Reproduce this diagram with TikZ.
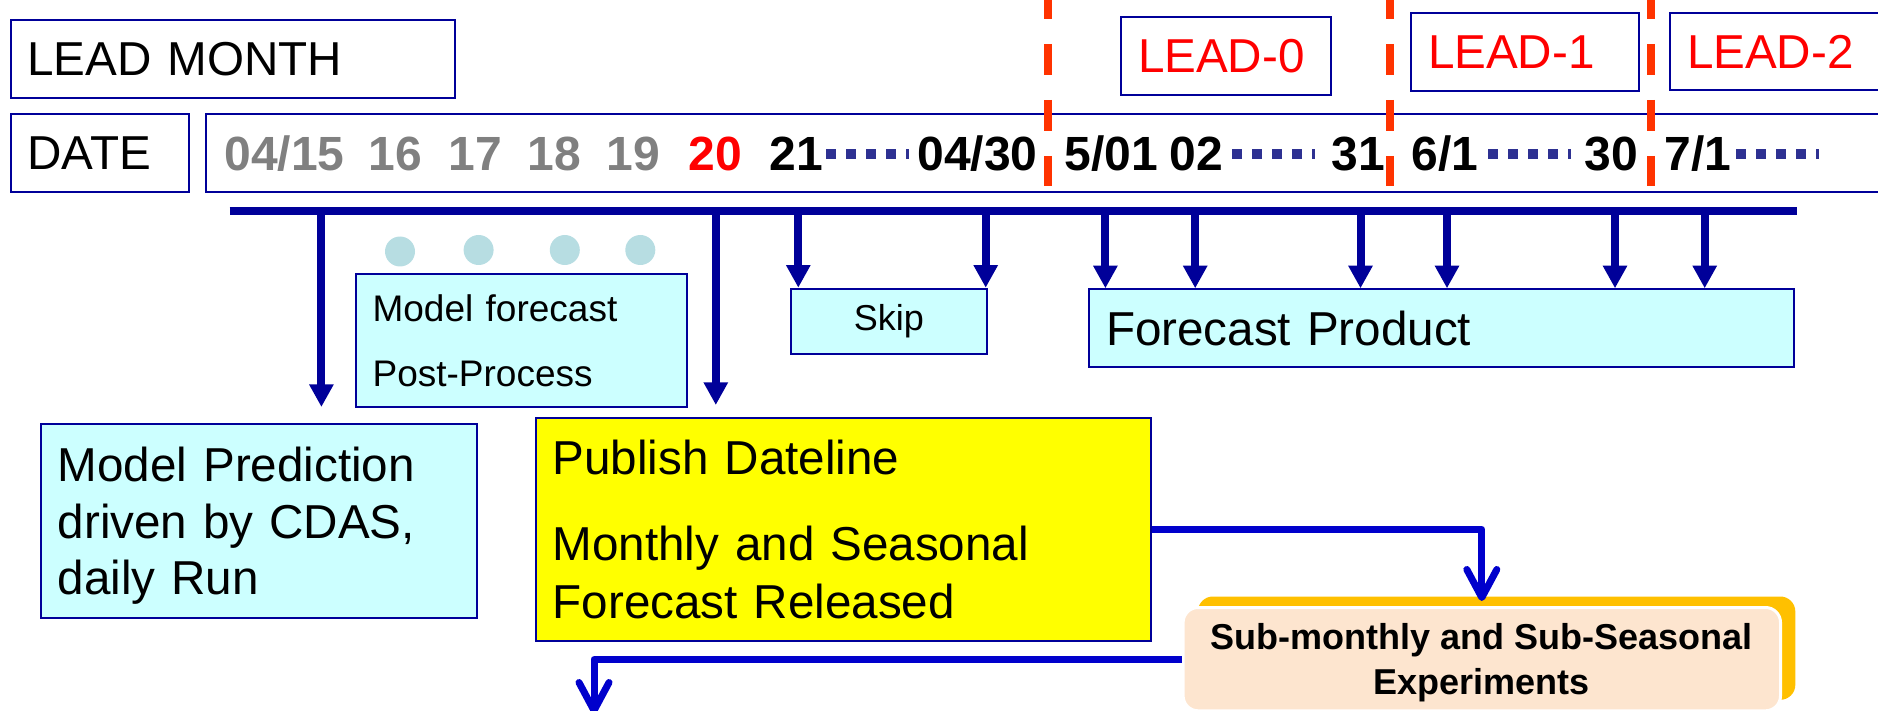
\documentclass[tikz,border=0pt]{standalone}
\usepackage{fontspec}
\setmainfont{Liberation Sans}
\usetikzlibrary{arrows.meta,shadows}
\definecolor{navy}{RGB}{0,0,153}
\definecolor{linkblue}{RGB}{0,0,204}
\definecolor{leadred}{RGB}{255,0,0}
\definecolor{dashred}{RGB}{255,51,0}
\definecolor{cyanfill}{RGB}{204,255,255}
\definecolor{dotnavy}{RGB}{46,49,146}
\definecolor{pastdate}{RGB}{128,128,128}
\definecolor{bead}{RGB}{183,221,226}
\definecolor{gold}{RGB}{255,192,0}
\definecolor{peach}{RGB}{253,229,207}
\definecolor{pubyellow}{RGB}{255,255,0}

\begin{document}
\begin{tikzpicture}[x=0.5pt,y=-0.5pt,
  box/.style={draw=navy,line width=1pt,anchor=north west,inner xsep=8.5pt,inner ysep=0pt,align=left},
  big/.style={font=\fontsize{23.8pt}{28.3pt}\selectfont},
  datenum/.style={anchor=base west,inner sep=0pt,font=\bfseries\fontsize{24pt}{28pt}\selectfont},
  drop/.style={draw=navy,line width=4pt,-{Triangle[width=11.5pt,length=11.3pt]}},
  bar/.style={draw=navy,line width=4pt},
  link/.style={draw=linkblue,line width=3.5pt,line join=round,-{Straight Barb[width=15pt,length=14pt,round]}},
  leadsep/.style={draw=dashred,line width=3.8pt,dash pattern=on 15.5pt off 12.5pt},
  dotrun/.style={draw=dotnavy,line width=5pt,dash pattern=on 5pt off 5pt},
  beadnode/.style={circle,fill=bead,inner sep=0pt,minimum size=15pt}]

\useasboundingbox (0,0) rectangle (1878,711);
\clip (0,0) rectangle (1878,711);

% header row
\node[box,big,minimum height=39pt,text width=205pt] (leadmonth) at (9.5,19) {LEAD MONTH};
\node[box,big,minimum height=39pt,text width=72pt] (datelabel) at (9.5,113) {DATE};
\node[box,minimum width=860pt,minimum height=39pt] (strip) at (205,113) {};
\node[box,big,text=leadred,minimum height=39pt,text width=88pt] (lead0) at (1120,16) {LEAD-0};
\node[box,big,text=leadred,minimum height=39pt,text width=97pt] (lead1) at (1410,12) {LEAD-1};
\node[box,big,text=leadred,minimum height=38.5pt,text width=113pt] (lead2) at (1669,12) {LEAD-2};

% calendar days
\node[datenum,text=pastdate] (d0415) at (224,170.5) {04/15};
\node[datenum,text=pastdate] (d16) at (368,170.5) {16};
\node[datenum,text=pastdate] (d17) at (448,170.5) {17};
\node[datenum,text=pastdate] (d18) at (527,170.5) {18};
\node[datenum,text=pastdate] (d19) at (606,170.5) {19};
\node[datenum,text=leadred] (d20) at (688.5,170.5) {20};
\node[datenum] (d21) at (769.5,170.5) {21};
\node[datenum] (d0430) at (917,170.5) {04/30};
\node[datenum] (d0501) at (1064,170.5) {5/01};
\node[datenum] (d02) at (1169,170.5) {02};
\node[datenum] (d31) at (1331,170.5) {31};
\node[datenum] (d0601) at (1411,170.5) {6/1};
\node[datenum] (d30) at (1584,170.5) {30};
\node[datenum] (d0701) at (1664,170.5) {7/1};
\draw[dotrun] (826,154) -- (909,154);
\draw[dotrun] (1232,154) -- (1315,154);
\draw[dotrun] (1488,154) -- (1571,154);
\draw[dotrun] (1736,154) -- (1819,154);

% month boundaries
\coordinate (m5top) at (1048,-12); \coordinate (m5bot) at (1048,186);
\coordinate (m6top) at (1390,-12); \coordinate (m6bot) at (1390,186);
\coordinate (m7top) at (1651,-12); \coordinate (m7bot) at (1651,186);
\draw[leadsep] (m5top) -- (m5bot);
\draw[leadsep] (m6top) -- (m6bot);
\draw[leadsep] (m7top) -- (m7bot);

% process boxes
\node[box,fill=cyanfill,minimum height=66.65pt,text width=148.7pt,
      font=\fontsize{18.5pt}{32.5pt}\selectfont] (mfc) at (354.6,272.7) {Model forecast\\Post-Process};
\node[box,fill=cyanfill,minimum width=97.85pt,minimum height=32.8pt,
      font=\fontsize{18pt}{21pt}\selectfont] (skip) at (790,287.7) {Skip};
\node[box,big,fill=cyanfill,minimum height=38.85pt,text width=335.7pt] (fprod) at (1088,288.3) {Forecast Product};
\node[box,fill=cyanfill,minimum height=97.3pt,text width=200.85pt,
      font=\fontsize{23.8pt}{28.3pt}\selectfont] (mpred) at (39.8,422.7)
      {Model Prediction\\driven by CDAS,\\\raisebox{0pt}[\height][0pt]{daily Run}};
\node[box,fill=pubyellow,minimum height=111.65pt,text width=290.85pt,
      font=\fontsize{23.8pt}{28.7pt}\selectfont] (pub) at (534.7,416.7) {Publish Dateline\\[14.6pt]Monthly and Seasonal\\Forecast Released};
\node[anchor=north west,fill=peach,draw=white,line width=1.5pt,rounded corners=7.5pt,
      minimum width=298.7pt,minimum height=51.65pt,align=center,text depth=0pt,inner sep=0pt,
      font=\bfseries\fontsize{18pt}{22.2pt}\selectfont,
      drop shadow={shadow xshift=7.4pt,shadow yshift=5.5pt,fill=gold,opacity=1}] (subx) at (1181.6,606)
      {Sub-monthly and Sub-Seasonal\\Experiments};

% dots between run days
\node[beadnode] (b1) at (400,251.5) {};
\node[beadnode] (b2) at (478.6,250) {};
\node[beadnode] (b3) at (564.8,250) {};
\node[beadnode] (b4) at (640.3,250) {};

% time bar and its drops
\coordinate (barL) at (229.6,211);
\coordinate (barR) at (1797,211);
\draw[bar] (barL) -- (barR);
\coordinate (t1) at (321.4,211);
\coordinate (t2) at (715.8,211);
\coordinate (t3) at (798.3,211);
\coordinate (t4) at (985.7,211);
\coordinate (t5) at (1105.4,211);
\coordinate (t6) at (1195.2,211);
\coordinate (t7) at (1360.5,211);
\coordinate (t8) at (1447,211);
\coordinate (t9) at (1615,211);
\coordinate (t10) at (1704.7,211);
\draw[drop,shorten >=7.85pt] (t1) -- (t1 |- mpred.north);
\draw[drop,shorten >=5.85pt] (t2) -- (t2 |- pub.north);
\draw[drop] (t3) -- (t3 |- skip.north);
\draw[drop] (t4) -- (t4 |- skip.north);
\foreach \t in {t5,t6,t7,t8,t9,t10}
  \draw[drop] (\t) -- (\t |- fprod.north);

% release flow
\coordinate (out) at (594,714);
\draw[link,shorten >=2.5pt] (pub.east) -| (subx.north);
\draw[link] (subx.west) -| (out);

\end{tikzpicture}
\end{document}
